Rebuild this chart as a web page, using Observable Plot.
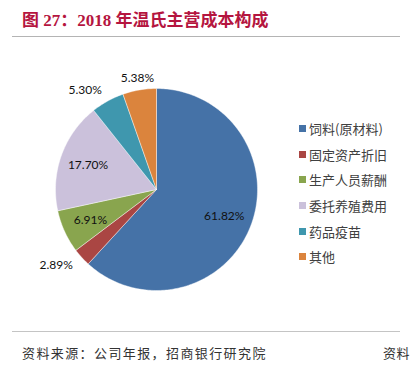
<!DOCTYPE html>
<html><head><meta charset="utf-8">
<script src="https://cdn.jsdelivr.net/npm/d3@7"></script>
<script src="https://cdn.jsdelivr.net/npm/@observablehq/plot@0.6"></script>
<style>
html,body{margin:0;padding:0;background:#fff;}
#wrap{position:relative;width:412px;height:367px;overflow:hidden;background:#fff;}
#title{position:absolute;left:22px;top:9px;font-family:"Liberation Serif","Noto Sans CJK SC",serif;font-weight:bold;font-size:17px;color:#b5153f;white-space:nowrap;line-height:24px;}
.rule{position:absolute;left:12px;width:388px;height:0;border-top:1.5px solid #b4b4b4;}
#chart{position:absolute;left:0;top:40px;}
#legend{position:absolute;left:299px;top:116px;font-family:"Noto Sans CJK SC",sans-serif;font-size:13px;color:#404040;}
.item{display:flex;align-items:center;height:25.6px;white-space:nowrap;}
.sw{width:7px;height:7px;margin-right:3px;flex:none;}
#src{position:absolute;left:22px;top:343px;font-family:"Noto Sans CJK SC",sans-serif;font-size:13px;letter-spacing:1.4px;color:#333;white-space:nowrap;}
#src2{position:absolute;left:383px;top:343px;font-family:"Noto Sans CJK SC",sans-serif;font-size:13px;letter-spacing:0.5px;color:#333;white-space:nowrap;}
</style></head>
<body>
<div id="wrap">
  <div id="title">图 27：2018 年温氏主营成本构成</div>
  <div class="rule" style="top:36px"></div>
  <div id="chart"></div>
  <div id="legend"></div>
  <div class="rule" style="top:331px;border-top-color:#c4c4c4"></div>
  <div id="src">资料来源：公司年报，招商银行研究院</div>
  <div id="src2">资料</div>
</div>
<script>
const categories = ["饲料(原材料)", "固定资产折旧", "生产人员薪酬", "委托养殖费用", "药品疫苗", "其他"];
const values = [61.82, 2.89, 6.91, 17.70, 5.30, 5.38];
const labels = ["61.82%", "2.89%", "6.91%", "17.70%", "5.30%", "5.38%"];
const colors = ["#4572a7", "#aa4643", "#89a54e", "#cbc1db", "#3f97ae", "#db843d"];

const rows = categories.map((c, i) => ({category: c, value: values[i], label: labels[i]}));
const arcs = d3.pie().sort(null).value(d => d.value)(rows);

// polygon points for each slice (unit circle, angle 0 at top, clockwise)
const pts = [];
for (const a of arcs) {
  const c = a.data.category;
  pts.push({category: c, x: 0, y: 0});
  const n = Math.max(2, Math.ceil((a.endAngle - a.startAngle) / (Math.PI / 180)));
  for (let k = 0; k <= n; k++) {
    const t = a.startAngle + (a.endAngle - a.startAngle) * k / n;
    pts.push({category: c, x: Math.sin(t), y: Math.cos(t)});
  }
  pts.push({category: c, x: 0, y: 0});
}

const lab = arcs.map(a => {
  const m = (a.startAngle + a.endAngle) / 2;
  const outside = a.data.value < 6;
  const r = outside ? 1.12 : 0.72;
  return {label: a.data.label, x: Math.sin(m) * r, y: Math.cos(m) * r, outside, s: Math.sin(m)};
});

const W = 412, H = 290;
const txt = {x: "x", y: "y", text: "label", fontSize: 12, fontFamily: "Lato, sans-serif", fill: "#111"};
const chart = Plot.plot({
  width: W, height: H,
  marginLeft: 55, marginRight: 155, marginTop: 48, marginBottom: 40,
  x: {domain: [-1, 1], axis: null},
  y: {domain: [-1, 1], axis: null},
  color: {domain: categories, range: colors},
  style: {background: "transparent", overflow: "visible"},
  marks: [
    Plot.line(pts, {x: "x", y: "y", z: "category", fill: "category", stroke: "white", strokeWidth: 0.6, strokeOpacity: 0.7, curve: "linear"}),
    Plot.text(lab.filter(d => !d.outside), {...txt, textAnchor: "middle"}),
    Plot.text(lab.filter(d => d.outside && d.s < -0.3), {...txt, textAnchor: "end"}),
    Plot.text(lab.filter(d => d.outside && d.s >= -0.3), {...txt, textAnchor: "middle"})
  ]
});
document.getElementById("chart").appendChild(chart);

const leg = document.getElementById("legend");
categories.forEach((c, i) => {
  const it = document.createElement("div");
  it.className = "item";
  const sw = document.createElement("span");
  sw.className = "sw";
  sw.style.background = colors[i];
  const tx = document.createElement("span");
  tx.textContent = c;
  it.appendChild(sw); it.appendChild(tx);
  leg.appendChild(it);
});
</script>
</body></html>
